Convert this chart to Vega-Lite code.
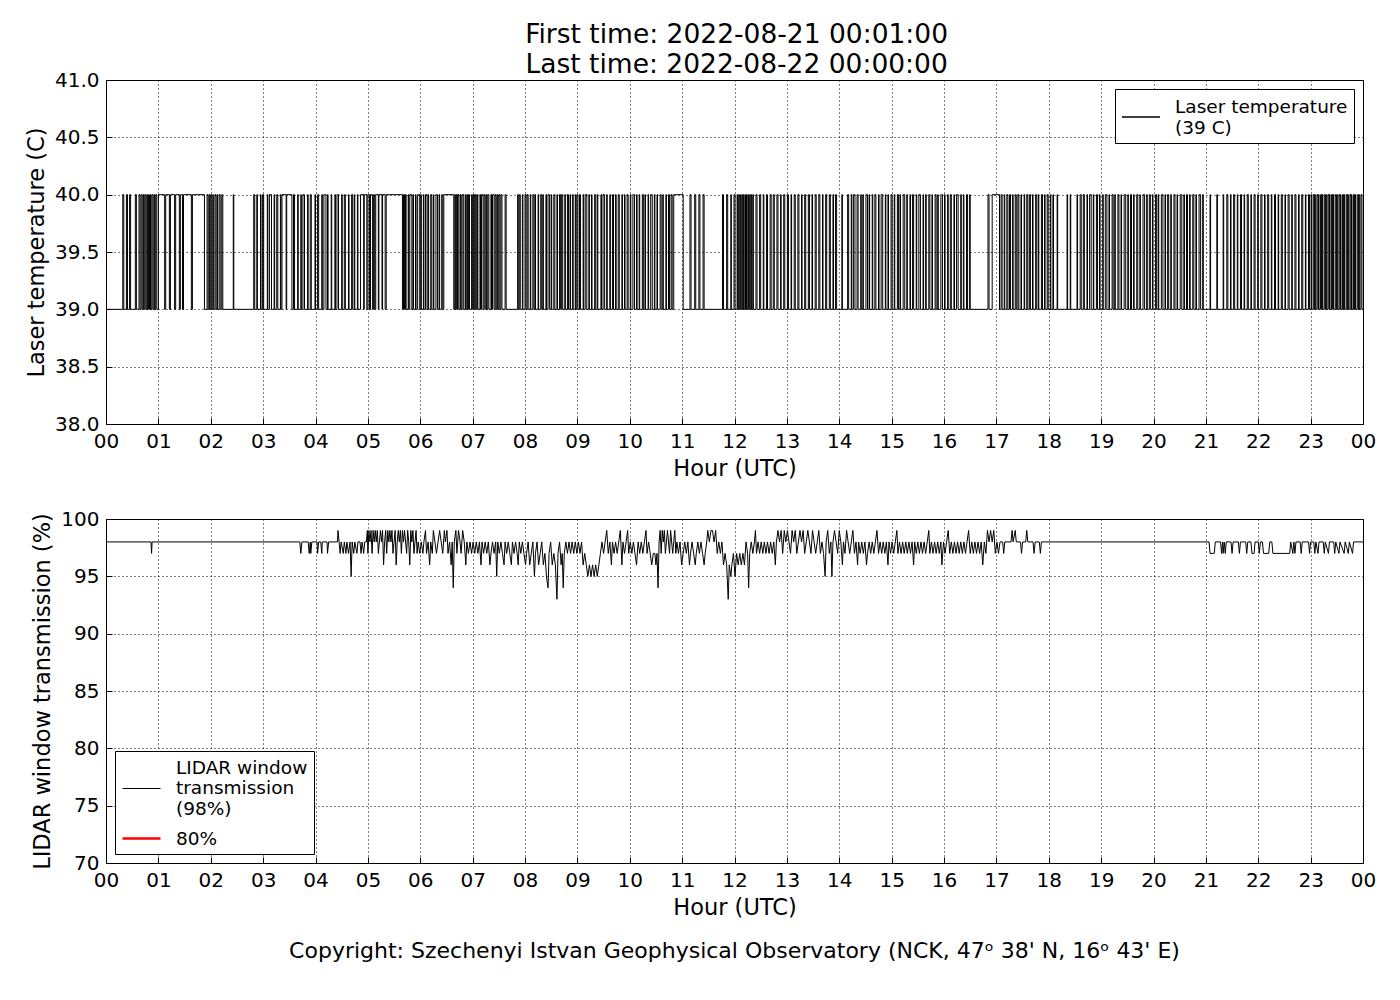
{
  "$schema": "https://vega.github.io/schema/vega-lite/v6.json",
  "background": "white",
  "padding": {"left": 24, "top": 22, "right": 15, "bottom": 10},
  "title": {
    "text": ["First time: 2022-08-21 00:01:00", "Last time: 2022-08-22 00:00:00"],
    "anchor": "middle", "font": "DejaVu Sans", "fontSize": 26.5, "fontWeight": "normal",
    "color": "black", "lineHeight": 30, "offset": -9, "dx": 36
  },
  "spacing": 28,
  "resolve": {
    "scale": {"color": "independent", "strokeWidth": "independent", "x": "independent", "y": "independent"},
    "legend": {"color": "independent", "strokeWidth": "independent"}
  },
  "config": {
    "font": "DejaVu Sans",
    "view": {"stroke": "black", "strokeWidth": 1},
    "axis": {
      "labelFont": "DejaVu Sans", "labelFontSize": 20, "labelColor": "black",
      "titleFont": "DejaVu Sans", "titleFontSize": 22.5, "titleFontWeight": "normal", "titleColor": "black",
      "domain": false, "grid": true, "gridColor": "black", "gridDash": [1, 3], "gridOpacity": 1,
      "ticks": true, "tickColor": "black", "tickSize": -6, "labelPadding": 13, "titlePadding": 6,
      "labelFlush": false, "labelOverlap": false
    },
    "legend": {
      "fillColor": "white", "strokeColor": "black", "strokeWidth": 1, "padding": 6, "cornerRadius": 0,
      "labelFont": "DejaVu Sans", "labelFontSize": 18.5, "labelColor": "black", "labelLimit": 400,
      "symbolType": "stroke", "symbolSize": 1444, "symbolStrokeWidth": 1.5, "symbolStrokeColor": "black",
      "labelOffset": 14, "rowPadding": 6, "offset": 9
    }
  },
  "vconcat": [
    {
      "width": 1257,
      "height": 344,
      "data": {"values": [
        {"h":0,"t":39},
        {"h":0.32,"t":40},{"h":0.34,"t":39},{"h":0.39,"t":40},{"h":0.41,"t":39},{"h":0.45,"t":40},{"h":0.47,"t":39},
        {"h":0.56,"t":40},{"h":0.58,"t":39},{"h":0.63,"t":40},{"h":0.65,"t":39},{"h":0.67,"t":40},{"h":0.69,"t":39},
        {"h":0.71,"t":40},{"h":0.72,"t":39},{"h":0.74,"t":40},{"h":0.76,"t":39},{"h":0.78,"t":40},{"h":0.79,"t":39},
        {"h":0.81,"t":40},{"h":0.83,"t":39},{"h":0.85,"t":40},{"h":0.86,"t":39},{"h":0.88,"t":40},{"h":0.90,"t":39},
        {"h":0.92,"t":40},{"h":0.93,"t":39},{"h":0.95,"t":40},{"h":0.97,"t":39},
        {"h":1.00,"t":40},{"h":1.12,"t":39},{"h":1.14,"t":40},{"h":1.21,"t":39},{"h":1.23,"t":40},{"h":1.31,"t":39},
        {"h":1.33,"t":40},{"h":1.40,"t":39},{"h":1.42,"t":40},{"h":1.46,"t":39},{"h":1.48,"t":40},{"h":1.63,"t":39},
        {"h":1.65,"t":40},{"h":1.88,"t":39},
        {"h":1.93,"t":40},{"h":1.95,"t":39},{"h":1.97,"t":40},{"h":1.98,"t":39},{"h":2.00,"t":40},{"h":2.02,"t":39},
        {"h":2.04,"t":40},{"h":2.05,"t":39},{"h":2.08,"t":40},{"h":2.10,"t":39},{"h":2.12,"t":40},{"h":2.13,"t":39},
        {"h":2.16,"t":40},{"h":2.18,"t":39},{"h":2.21,"t":40},{"h":2.23,"t":39},
        {"h":2.43,"t":40},{"h":2.44,"t":39},
        {"h":2.82,"t":40},{"h":2.84,"t":39},{"h":2.88,"t":40},{"h":2.89,"t":39},{"h":2.95,"t":40},{"h":2.96,"t":39},
        {"h":2.99,"t":40},{"h":3.01,"t":39},{"h":3.08,"t":40},{"h":3.09,"t":39},{"h":3.12,"t":40},{"h":3.16,"t":39},
        {"h":3.21,"t":40},{"h":3.22,"t":39},{"h":3.26,"t":40},{"h":3.28,"t":39},{"h":3.33,"t":40},{"h":3.34,"t":39},
        {"h":3.36,"t":40},{"h":3.44,"t":39},{"h":3.45,"t":40},{"h":3.55,"t":39},{"h":3.58,"t":40},{"h":3.60,"t":39},
        {"h":3.66,"t":40},{"h":3.67,"t":39},{"h":3.72,"t":40},{"h":3.73,"t":39},{"h":3.76,"t":40},{"h":3.79,"t":39},
        {"h":3.85,"t":40},{"h":3.86,"t":39},{"h":3.90,"t":40},{"h":3.92,"t":39},{"h":3.99,"t":40},{"h":4.00,"t":39},
        {"h":4.04,"t":40},{"h":4.06,"t":39},{"h":4.12,"t":40},{"h":4.13,"t":39},{"h":4.16,"t":40},{"h":4.20,"t":39},
        {"h":4.23,"t":40},{"h":4.24,"t":39},{"h":4.30,"t":40},{"h":4.31,"t":39},{"h":4.37,"t":40},{"h":4.38,"t":39},
        {"h":4.41,"t":40},{"h":4.44,"t":39},{"h":4.50,"t":40},{"h":4.51,"t":39},{"h":4.55,"t":40},{"h":4.57,"t":39},
        {"h":4.63,"t":40},{"h":4.64,"t":39},{"h":4.69,"t":40},{"h":4.71,"t":39},{"h":4.74,"t":40},{"h":4.75,"t":39},
        {"h":4.80,"t":40},{"h":4.81,"t":39},
        {"h":4.86,"t":40},{"h":4.92,"t":39},{"h":4.93,"t":40},{"h":4.98,"t":39},{"h":5.00,"t":40},{"h":5.03,"t":39},
        {"h":5.05,"t":40},{"h":5.09,"t":39},{"h":5.11,"t":40},{"h":5.13,"t":39},{"h":5.15,"t":40},{"h":5.20,"t":39},
        {"h":5.21,"t":40},{"h":5.27,"t":39},{"h":5.28,"t":40},{"h":5.33,"t":39},{"h":5.35,"t":40},{"h":5.66,"t":39},
        {"h":5.68,"t":40},{"h":5.70,"t":39},{"h":5.72,"t":40},{"h":5.73,"t":39},{"h":5.77,"t":40},{"h":5.78,"t":39},
        {"h":5.80,"t":40},{"h":5.84,"t":39},{"h":5.86,"t":40},{"h":5.87,"t":39},{"h":5.91,"t":40},{"h":5.92,"t":39},
        {"h":5.95,"t":40},{"h":5.99,"t":39},{"h":6.01,"t":40},{"h":6.02,"t":39},{"h":6.06,"t":40},{"h":6.07,"t":39},
        {"h":6.10,"t":40},{"h":6.13,"t":39},{"h":6.15,"t":40},{"h":6.16,"t":39},{"h":6.20,"t":40},{"h":6.22,"t":39},
        {"h":6.25,"t":40},{"h":6.26,"t":39},{"h":6.30,"t":40},{"h":6.33,"t":39},{"h":6.36,"t":40},{"h":6.37,"t":39},
        {"h":6.41,"t":40},{"h":6.43,"t":39},
        {"h":6.45,"t":40},{"h":6.64,"t":39},
        {"h":6.66,"t":40},{"h":6.67,"t":39},{"h":6.69,"t":40},{"h":6.71,"t":39},{"h":6.72,"t":40},{"h":6.74,"t":39},
        {"h":6.77,"t":40},{"h":6.78,"t":39},{"h":6.80,"t":40},{"h":6.83,"t":39},{"h":6.86,"t":40},{"h":6.87,"t":39},
        {"h":6.89,"t":40},{"h":6.90,"t":39},{"h":6.92,"t":40},{"h":6.94,"t":39},{"h":6.98,"t":40},{"h":7.00,"t":39},
        {"h":7.02,"t":40},{"h":7.04,"t":39},{"h":7.05,"t":40},{"h":7.07,"t":39},{"h":7.09,"t":40},{"h":7.10,"t":39},
        {"h":7.14,"t":40},{"h":7.15,"t":39},{"h":7.17,"t":40},{"h":7.20,"t":39},{"h":7.22,"t":40},{"h":7.24,"t":39},
        {"h":7.26,"t":40},{"h":7.27,"t":39},{"h":7.29,"t":40},{"h":7.31,"t":39},{"h":7.35,"t":40},{"h":7.36,"t":39},
        {"h":7.38,"t":40},{"h":7.41,"t":39},{"h":7.43,"t":40},{"h":7.45,"t":39},{"h":7.47,"t":40},{"h":7.48,"t":39},
        {"h":7.50,"t":40},{"h":7.52,"t":39},{"h":7.54,"t":40},{"h":7.56,"t":39},
        {"h":7.62,"t":40},{"h":7.64,"t":39},{"h":7.86,"t":40},{"h":7.87,"t":39},
        {"h":7.89,"t":40},{"h":7.91,"t":39},{"h":7.95,"t":40},{"h":7.96,"t":39},{"h":8.00,"t":40},{"h":8.02,"t":39},
        {"h":8.04,"t":40},{"h":8.06,"t":39},{"h":8.10,"t":40},{"h":8.11,"t":39},{"h":8.15,"t":40},{"h":8.17,"t":39},
        {"h":8.19,"t":40},{"h":8.20,"t":39},{"h":8.25,"t":40},{"h":8.26,"t":39},{"h":8.30,"t":40},{"h":8.32,"t":39},
        {"h":8.34,"t":40},{"h":8.35,"t":39},{"h":8.40,"t":40},{"h":8.41,"t":39},{"h":8.44,"t":40},{"h":8.47,"t":39},
        {"h":8.50,"t":40},{"h":8.51,"t":39},{"h":8.55,"t":40},{"h":8.57,"t":39},{"h":8.61,"t":40},{"h":8.62,"t":39},
        {"h":8.66,"t":40},{"h":8.68,"t":39},{"h":8.70,"t":40},{"h":8.72,"t":39},{"h":8.76,"t":40},{"h":8.77,"t":39},
        {"h":8.81,"t":40},{"h":8.83,"t":39},{"h":8.86,"t":40},{"h":8.87,"t":39},{"h":8.91,"t":40},{"h":8.92,"t":39},
        {"h":8.96,"t":40},{"h":8.97,"t":39},{"h":8.99,"t":40},{"h":9.01,"t":39},
        {"h":9.04,"t":40},{"h":9.06,"t":39},{"h":9.11,"t":40},{"h":9.12,"t":39},{"h":9.15,"t":40},{"h":9.18,"t":39},
        {"h":9.22,"t":40},{"h":9.23,"t":39},{"h":9.27,"t":40},{"h":9.28,"t":39},{"h":9.33,"t":40},{"h":9.35,"t":39},
        {"h":9.38,"t":40},{"h":9.39,"t":39},{"h":9.45,"t":40},{"h":9.46,"t":39},{"h":9.49,"t":40},{"h":9.52,"t":39},
        {"h":9.56,"t":40},{"h":9.57,"t":39},{"h":9.62,"t":40},{"h":9.63,"t":39},{"h":9.67,"t":40},{"h":9.69,"t":39},
        {"h":9.73,"t":40},{"h":9.74,"t":39},{"h":9.78,"t":40},{"h":9.80,"t":39},{"h":9.85,"t":40},{"h":9.86,"t":39},
        {"h":9.90,"t":40},{"h":9.91,"t":39},{"h":9.95,"t":40},{"h":9.97,"t":39},{"h":10.01,"t":40},{"h":10.02,"t":39},
        {"h":10.06,"t":40},{"h":10.09,"t":39},{"h":10.13,"t":40},{"h":10.14,"t":39},{"h":10.18,"t":40},{"h":10.19,"t":39},
        {"h":10.24,"t":40},{"h":10.26,"t":39},{"h":10.29,"t":40},{"h":10.30,"t":39},{"h":10.35,"t":40},{"h":10.36,"t":39},
        {"h":10.40,"t":40},{"h":10.43,"t":39},{"h":10.47,"t":40},{"h":10.48,"t":39},{"h":10.52,"t":40},{"h":10.53,"t":39},
        {"h":10.58,"t":40},{"h":10.60,"t":39},{"h":10.63,"t":40},{"h":10.64,"t":39},{"h":10.69,"t":40},{"h":10.70,"t":39},
        {"h":10.74,"t":40},{"h":10.76,"t":39},{"h":10.79,"t":40},{"h":10.81,"t":39},
        {"h":10.84,"t":40},{"h":11.02,"t":39},
        {"h":11.15,"t":40},{"h":11.17,"t":39},{"h":11.24,"t":40},{"h":11.26,"t":39},{"h":11.32,"t":40},{"h":11.34,"t":39},
        {"h":11.40,"t":40},{"h":11.42,"t":39},{"h":11.77,"t":40},{"h":11.79,"t":39},{"h":11.85,"t":40},{"h":11.87,"t":39},
        {"h":11.93,"t":40},{"h":11.94,"t":39},{"h":11.99,"t":40},{"h":12.01,"t":39},
        {"h":12.05,"t":40},{"h":12.06,"t":39},{"h":12.08,"t":40},{"h":12.09,"t":39},{"h":12.11,"t":40},{"h":12.12,"t":39},
        {"h":12.14,"t":40},{"h":12.15,"t":39},{"h":12.17,"t":40},{"h":12.18,"t":39},{"h":12.20,"t":40},{"h":12.21,"t":39},
        {"h":12.23,"t":40},{"h":12.24,"t":39},{"h":12.26,"t":40},{"h":12.27,"t":39},{"h":12.29,"t":40},{"h":12.30,"t":39},
        {"h":12.32,"t":40},{"h":12.33,"t":39},{"h":12.35,"t":40},{"h":12.36,"t":39},
        {"h":12.41,"t":40},{"h":12.43,"t":39},{"h":12.48,"t":40},{"h":12.50,"t":39},{"h":12.55,"t":40},{"h":12.56,"t":39},
        {"h":12.61,"t":40},{"h":12.63,"t":39},{"h":12.68,"t":40},{"h":12.70,"t":39},{"h":12.74,"t":40},{"h":12.76,"t":39},
        {"h":12.81,"t":40},{"h":12.83,"t":39},{"h":12.88,"t":40},{"h":12.89,"t":39},{"h":12.94,"t":40},{"h":12.96,"t":39},
        {"h":13.01,"t":40},{"h":13.03,"t":39},{"h":13.08,"t":40},{"h":13.09,"t":39},{"h":13.14,"t":40},{"h":13.16,"t":39},
        {"h":13.21,"t":40},{"h":13.23,"t":39},{"h":13.28,"t":40},{"h":13.29,"t":39},{"h":13.34,"t":40},{"h":13.36,"t":39},
        {"h":13.41,"t":40},{"h":13.43,"t":39},{"h":13.48,"t":40},{"h":13.49,"t":39},{"h":13.54,"t":40},{"h":13.56,"t":39},
        {"h":13.61,"t":40},{"h":13.63,"t":39},{"h":13.68,"t":40},{"h":13.69,"t":39},{"h":13.74,"t":40},{"h":13.76,"t":39},
        {"h":13.81,"t":40},{"h":13.83,"t":39},{"h":13.88,"t":40},{"h":13.89,"t":39},{"h":13.93,"t":40},{"h":13.95,"t":39},
        {"h":14.05,"t":40},{"h":14.06,"t":39},
        {"h":14.16,"t":40},{"h":14.18,"t":39},{"h":14.23,"t":40},{"h":14.24,"t":39},{"h":14.27,"t":40},{"h":14.30,"t":39},
        {"h":14.34,"t":40},{"h":14.36,"t":39},{"h":14.41,"t":40},{"h":14.42,"t":39},{"h":14.45,"t":40},{"h":14.46,"t":39},
        {"h":14.51,"t":40},{"h":14.54,"t":39},{"h":14.57,"t":40},{"h":14.58,"t":39},{"h":14.63,"t":40},{"h":14.64,"t":39},
        {"h":14.68,"t":40},{"h":14.70,"t":39},{"h":14.75,"t":40},{"h":14.76,"t":39},{"h":14.80,"t":40},{"h":14.83,"t":39},
        {"h":14.88,"t":40},{"h":14.89,"t":39},{"h":14.93,"t":40},{"h":14.94,"t":39},{"h":14.99,"t":40},{"h":15.01,"t":39},
        {"h":15.05,"t":40},{"h":15.06,"t":39},{"h":15.11,"t":40},{"h":15.13,"t":39},{"h":15.16,"t":40},{"h":15.17,"t":39},
        {"h":15.22,"t":40},{"h":15.25,"t":39},{"h":15.29,"t":40},{"h":15.30,"t":39},{"h":15.35,"t":40},{"h":15.36,"t":39},
        {"h":15.40,"t":40},{"h":15.42,"t":39},{"h":15.47,"t":40},{"h":15.48,"t":39},{"h":15.52,"t":40},{"h":15.55,"t":39},
        {"h":15.60,"t":40},{"h":15.61,"t":39},{"h":15.65,"t":40},{"h":15.66,"t":39},{"h":15.71,"t":40},{"h":15.73,"t":39},
        {"h":15.77,"t":40},{"h":15.78,"t":39},{"h":15.83,"t":40},{"h":15.85,"t":39},{"h":15.88,"t":40},{"h":15.89,"t":39},
        {"h":15.94,"t":40},{"h":15.97,"t":39},{"h":16.01,"t":40},{"h":16.02,"t":39},{"h":16.07,"t":40},{"h":16.08,"t":39},
        {"h":16.12,"t":40},{"h":16.14,"t":39},{"h":16.19,"t":40},{"h":16.20,"t":39},{"h":16.24,"t":40},{"h":16.27,"t":39},
        {"h":16.32,"t":40},{"h":16.33,"t":39},{"h":16.37,"t":40},{"h":16.38,"t":39},{"h":16.43,"t":40},{"h":16.45,"t":39},
        {"h":16.49,"t":40},{"h":16.50,"t":39},
        {"h":16.84,"t":40},{"h":16.86,"t":39},{"h":16.92,"t":40},{"h":17.06,"t":39},
        {"h":17.09,"t":40},{"h":17.11,"t":39},{"h":17.15,"t":40},{"h":17.16,"t":39},{"h":17.20,"t":40},{"h":17.22,"t":39},
        {"h":17.25,"t":40},{"h":17.27,"t":39},{"h":17.31,"t":40},{"h":17.32,"t":39},{"h":17.36,"t":40},{"h":17.38,"t":39},
        {"h":17.41,"t":40},{"h":17.43,"t":39},{"h":17.47,"t":40},{"h":17.48,"t":39},{"h":17.53,"t":40},{"h":17.54,"t":39},
        {"h":17.58,"t":40},{"h":17.60,"t":39},{"h":17.63,"t":40},{"h":17.65,"t":39},{"h":17.69,"t":40},{"h":17.70,"t":39},
        {"h":17.75,"t":40},{"h":17.77,"t":39},{"h":17.80,"t":40},{"h":17.81,"t":39},{"h":17.86,"t":40},{"h":17.88,"t":39},
        {"h":17.92,"t":40},{"h":17.93,"t":39},{"h":17.97,"t":40},{"h":17.99,"t":39},{"h":18.03,"t":40},{"h":18.04,"t":39},
        {"h":18.08,"t":40},{"h":18.09,"t":39},{"h":18.16,"t":40},{"h":18.17,"t":39},{"h":18.35,"t":40},{"h":18.36,"t":39},
        {"h":18.41,"t":40},{"h":18.42,"t":39},{"h":18.54,"t":40},{"h":18.55,"t":39},{"h":18.60,"t":40},{"h":18.62,"t":39},
        {"h":18.66,"t":40},{"h":18.68,"t":39},{"h":18.73,"t":40},{"h":18.74,"t":39},{"h":18.78,"t":40},{"h":18.81,"t":39},
        {"h":18.85,"t":40},{"h":18.86,"t":39},{"h":18.91,"t":40},{"h":18.93,"t":39},{"h":18.97,"t":40},{"h":18.98,"t":39},
        {"h":19.03,"t":40},{"h":19.04,"t":39},{"h":19.08,"t":40},{"h":19.11,"t":39},{"h":19.15,"t":40},{"h":19.16,"t":39},
        {"h":19.21,"t":40},{"h":19.23,"t":39},{"h":19.26,"t":40},{"h":19.27,"t":39},{"h":19.32,"t":40},{"h":19.34,"t":39},
        {"h":19.38,"t":40},{"h":19.39,"t":39},{"h":19.44,"t":40},{"h":19.47,"t":39},{"h":19.51,"t":40},{"h":19.52,"t":39},
        {"h":19.56,"t":40},{"h":19.58,"t":39},{"h":19.62,"t":40},{"h":19.63,"t":39},{"h":19.68,"t":40},{"h":19.70,"t":39},
        {"h":19.74,"t":40},{"h":19.75,"t":39},{"h":19.80,"t":40},{"h":19.83,"t":39},{"h":19.87,"t":40},{"h":19.88,"t":39},
        {"h":19.92,"t":40},{"h":19.94,"t":39},{"h":19.98,"t":40},{"h":19.99,"t":39},{"h":20.04,"t":40},{"h":20.06,"t":39},
        {"h":20.09,"t":40},{"h":20.10,"t":39},{"h":20.15,"t":40},{"h":20.18,"t":39},{"h":20.22,"t":40},{"h":20.23,"t":39},
        {"h":20.27,"t":40},{"h":20.29,"t":39},{"h":20.33,"t":40},{"h":20.34,"t":39},{"h":20.39,"t":40},{"h":20.41,"t":39},
        {"h":20.45,"t":40},{"h":20.46,"t":39},{"h":20.51,"t":40},{"h":20.54,"t":39},{"h":20.58,"t":40},{"h":20.59,"t":39},
        {"h":20.63,"t":40},{"h":20.65,"t":39},{"h":20.69,"t":40},{"h":20.70,"t":39},{"h":20.75,"t":40},{"h":20.77,"t":39},
        {"h":20.81,"t":40},{"h":20.82,"t":39},{"h":20.87,"t":40},{"h":20.90,"t":39},{"h":20.94,"t":40},{"h":20.95,"t":39},
        {"h":21.08,"t":40},{"h":21.09,"t":39},{"h":21.21,"t":40},{"h":21.22,"t":39},{"h":21.33,"t":40},{"h":21.34,"t":39},
        {"h":21.40,"t":40},{"h":21.42,"t":39},{"h":21.47,"t":40},{"h":21.48,"t":39},{"h":21.53,"t":40},{"h":21.55,"t":39},
        {"h":21.60,"t":40},{"h":21.61,"t":39},{"h":21.66,"t":40},{"h":21.68,"t":39},{"h":21.73,"t":40},{"h":21.74,"t":39},
        {"h":21.79,"t":40},{"h":21.81,"t":39},{"h":21.86,"t":40},{"h":21.87,"t":39},{"h":21.92,"t":40},{"h":21.94,"t":39},
        {"h":21.99,"t":40},{"h":22.00,"t":39},{"h":22.05,"t":40},{"h":22.07,"t":39},{"h":22.12,"t":40},{"h":22.13,"t":39},
        {"h":22.18,"t":40},{"h":22.20,"t":39},{"h":22.25,"t":40},{"h":22.26,"t":39},{"h":22.31,"t":40},{"h":22.33,"t":39},
        {"h":22.38,"t":40},{"h":22.39,"t":39},{"h":22.44,"t":40},{"h":22.46,"t":39},{"h":22.51,"t":40},{"h":22.52,"t":39},
        {"h":22.57,"t":40},{"h":22.59,"t":39},{"h":22.64,"t":40},{"h":22.65,"t":39},{"h":22.70,"t":40},{"h":22.72,"t":39},
        {"h":22.77,"t":40},{"h":22.78,"t":39},{"h":22.83,"t":40},{"h":22.85,"t":39},{"h":22.90,"t":40},{"h":22.91,"t":39},
        {"h":22.96,"t":40},{"h":22.98,"t":39},
        {"h":23.01,"t":40},{"h":23.02,"t":39},{"h":23.05,"t":40},{"h":23.07,"t":39},{"h":23.08,"t":40},{"h":23.09,"t":39},
        {"h":23.12,"t":40},{"h":23.14,"t":39},{"h":23.15,"t":40},{"h":23.16,"t":39},{"h":23.19,"t":40},{"h":23.21,"t":39},
        {"h":23.22,"t":40},{"h":23.23,"t":39},{"h":23.26,"t":40},{"h":23.28,"t":39},{"h":23.29,"t":40},{"h":23.30,"t":39},
        {"h":23.33,"t":40},{"h":23.35,"t":39},{"h":23.36,"t":40},{"h":23.37,"t":39},{"h":23.40,"t":40},{"h":23.42,"t":39},
        {"h":23.43,"t":40},{"h":23.44,"t":39},{"h":23.47,"t":40},{"h":23.49,"t":39},{"h":23.50,"t":40},{"h":23.51,"t":39},
        {"h":23.54,"t":40},{"h":23.56,"t":39},{"h":23.57,"t":40},{"h":23.58,"t":39},{"h":23.61,"t":40},{"h":23.63,"t":39},
        {"h":23.64,"t":40},{"h":23.65,"t":39},{"h":23.68,"t":40},{"h":23.70,"t":39},{"h":23.71,"t":40},{"h":23.72,"t":39},
        {"h":23.75,"t":40},{"h":23.77,"t":39},{"h":23.78,"t":40},{"h":23.79,"t":39},{"h":23.82,"t":40},{"h":23.84,"t":39},
        {"h":23.85,"t":40},{"h":23.86,"t":39},{"h":23.89,"t":40},{"h":23.91,"t":39},{"h":23.92,"t":40},{"h":23.93,"t":39},
        {"h":23.96,"t":40},{"h":23.98,"t":39},{"h":24.00,"t":39}
      ]},
      "mark": {"type": "line", "interpolate": "step-after", "strokeWidth": 1},
      "encoding": {
        "x": {
          "field": "h", "type": "quantitative",
          "scale": {"domain": [0, 24], "nice": false, "zero": false},
          "axis": {
            "title": "Hour (UTC)",
            "values": [0,1,2,3,4,5,6,7,8,9,10,11,12,13,14,15,16,17,18,19,20,21,22,23,24],
            "labelExpr": "datum.value == 24 ? '00' : (datum.value < 10 ? '0' + datum.value : '' + datum.value)"
          }
        },
        "y": {
          "field": "t", "type": "quantitative",
          "scale": {"domain": [38, 41], "nice": false, "zero": false},
          "axis": {"title": "Laser temperature (C)", "values": [38, 38.5, 39, 39.5, 40, 40.5, 41], "format": ".1f"}
        },
        "color": {
          "datum": "Laser temperature (39 C)", "type": "nominal",
          "scale": {"domain": ["Laser temperature (39 C)"], "range": ["black"]},
          "legend": {
            "title": " ", "titleFontSize": 1, "titlePadding": 1, "orient": "top-right",
            "labelExpr": "datum.label == 'Laser temperature (39 C)' ? ['Laser temperature', '(39 C)'] : datum.label",
            "encode": {"labels": {"update": {"dy": {"value": -10}}}}
          }
        }
      }
    },
    {
      "width": 1257,
      "height": 344,
      "title": {
        "text": "Copyright: Szechenyi Istvan Geophysical Observatory (NCK, 47ᵒ 38' N, 16ᵒ 43' E)",
        "orient": "bottom", "anchor": "middle", "font": "DejaVu Sans", "fontSize": 22,
        "fontWeight": "normal", "color": "black", "offset": 22
      },
      "layer": [
        {
          "data": {"values": [
            {"h":0,"w":98},{"h":0.86,"w":98},{"h":0.87,"w":97},{"h":0.88,"w":98},{"h":3.70,"w":98},
            {"h":3.72,"w":97},{"h":3.74,"w":98},{"h":3.86,"w":98},{"h":3.88,"w":97},{"h":3.90,"w":98},{"h":3.91,"w":97},
            {"h":3.93,"w":98},{"h":4.03,"w":98},{"h":4.04,"w":97},{"h":4.06,"w":98},{"h":4.10,"w":98},{"h":4.12,"w":97},
            {"h":4.13,"w":98},{"h":4.22,"w":98},{"h":4.23,"w":97},{"h":4.25,"w":98},{"h":4.42,"w":98},{"h":4.43,"w":99},
            {"h":4.45,"w":98},{"h":4.47,"w":97},{"h":4.49,"w":98},{"h":4.53,"w":97},{"h":4.55,"w":98},{"h":4.58,"w":97},
            {"h":4.60,"w":98},{"h":4.63,"w":97},{"h":4.66,"w":98},{"h":4.68,"w":95},{"h":4.70,"w":98},{"h":4.73,"w":97},
            {"h":4.75,"w":98},{"h":4.79,"w":97},{"h":4.81,"w":98},{"h":4.85,"w":98},{"h":4.87,"w":97},{"h":4.89,"w":98},
            {"h":4.92,"w":97},{"h":4.94,"w":98},{"h":4.97,"w":98},{"h":4.99,"w":99},{"h":5.00,"w":97},{"h":5.02,"w":99},
            {"h":5.04,"w":98},{"h":5.06,"w":99},{"h":5.08,"w":97},{"h":5.10,"w":99},{"h":5.12,"w":98},{"h":5.14,"w":99},
            {"h":5.16,"w":98},{"h":5.18,"w":99},{"h":5.20,"w":97},{"h":5.22,"w":98},{"h":5.24,"w":99},{"h":5.26,"w":98},
            {"h":5.28,"w":99},{"h":5.30,"w":96},{"h":5.32,"w":98},{"h":5.34,"w":99},{"h":5.36,"w":97},{"h":5.38,"w":99},
            {"h":5.40,"w":98},{"h":5.42,"w":99},{"h":5.44,"w":98},{"h":5.46,"w":99},{"h":5.48,"w":97},{"h":5.50,"w":98},
            {"h":5.52,"w":99},{"h":5.54,"w":96},{"h":5.56,"w":98},{"h":5.58,"w":99},{"h":5.60,"w":98},{"h":5.62,"w":99},
            {"h":5.64,"w":97},{"h":5.66,"w":99},{"h":5.68,"w":98},{"h":5.70,"w":99},{"h":5.72,"w":98},{"h":5.74,"w":97},
            {"h":5.76,"w":99},{"h":5.78,"w":98},{"h":5.80,"w":96},{"h":5.82,"w":99},{"h":5.84,"w":98},{"h":5.86,"w":99},
            {"h":5.88,"w":97},{"h":5.90,"w":98},{"h":5.92,"w":99},{"h":5.94,"w":97},{"h":5.96,"w":98},{"h":5.99,"w":97},
            {"h":6.02,"w":98},{"h":6.05,"w":97},{"h":6.07,"w":98},{"h":6.10,"w":99},{"h":6.12,"w":97},{"h":6.15,"w":98},
            {"h":6.18,"w":96},{"h":6.20,"w":98},{"h":6.23,"w":97},{"h":6.25,"w":99},{"h":6.28,"w":98},{"h":6.31,"w":97},
            {"h":6.34,"w":98},{"h":6.37,"w":99},{"h":6.40,"w":98},{"h":6.43,"w":97},{"h":6.46,"w":99},{"h":6.48,"w":98},
            {"h":6.51,"w":99},{"h":6.53,"w":97},{"h":6.56,"w":98},{"h":6.59,"w":96},{"h":6.61,"w":98},{"h":6.63,"w":94},
            {"h":6.65,"w":98},{"h":6.68,"w":99},{"h":6.70,"w":97},{"h":6.73,"w":99},{"h":6.76,"w":98},{"h":6.78,"w":97},
            {"h":6.81,"w":99},{"h":6.84,"w":98},{"h":6.87,"w":96},{"h":6.89,"w":98},{"h":6.92,"w":97},{"h":6.95,"w":98},
            {"h":6.98,"w":97},{"h":7.01,"w":98},{"h":7.04,"w":97},{"h":7.07,"w":98},{"h":7.10,"w":97},{"h":7.13,"w":98},
            {"h":7.16,"w":96},{"h":7.18,"w":98},{"h":7.21,"w":97},{"h":7.24,"w":98},{"h":7.27,"w":97},{"h":7.30,"w":98},
            {"h":7.33,"w":96},{"h":7.35,"w":97},{"h":7.38,"w":98},{"h":7.41,"w":97},{"h":7.44,"w":98},{"h":7.46,"w":95},
            {"h":7.48,"w":98},{"h":7.51,"w":97},{"h":7.54,"w":98},{"h":7.57,"w":97},{"h":7.60,"w":96},{"h":7.62,"w":98},
            {"h":7.65,"w":97},{"h":7.68,"w":98},{"h":7.71,"w":97},{"h":7.74,"w":96},{"h":7.76,"w":98},{"h":7.79,"w":97},
            {"h":7.82,"w":98},{"h":7.85,"w":97},{"h":7.87,"w":96},{"h":7.89,"w":98},{"h":7.92,"w":97},{"h":7.95,"w":98},
            {"h":7.98,"w":97},{"h":8.01,"w":96},{"h":8.03,"w":97},{"h":8.06,"w":98},{"h":8.09,"w":96},{"h":8.12,"w":97},
            {"h":8.15,"w":98},{"h":8.18,"w":95},{"h":8.20,"w":97},{"h":8.23,"w":98},{"h":8.26,"w":96},{"h":8.29,"w":97},
            {"h":8.32,"w":98},{"h":8.35,"w":96},{"h":8.38,"w":97},{"h":8.41,"w":95},{"h":8.44,"w":94},{"h":8.46,"w":97},
            {"h":8.49,"w":98},{"h":8.52,"w":96},{"h":8.55,"w":97},{"h":8.58,"w":96},{"h":8.61,"w":93},{"h":8.63,"w":97},
            {"h":8.66,"w":98},{"h":8.69,"w":96},{"h":8.71,"w":97},{"h":8.73,"w":94},{"h":8.75,"w":97},{"h":8.78,"w":98},
            {"h":8.81,"w":97},{"h":8.84,"w":98},{"h":8.87,"w":97},{"h":8.90,"w":98},{"h":8.93,"w":97},{"h":8.96,"w":98},
            {"h":8.99,"w":97},{"h":9.02,"w":98},{"h":9.05,"w":97},{"h":9.08,"w":98},{"h":9.11,"w":96},{"h":9.14,"w":97},
            {"h":9.17,"w":96},{"h":9.20,"w":95},{"h":9.23,"w":96},{"h":9.26,"w":95},{"h":9.29,"w":96},{"h":9.32,"w":95},
            {"h":9.35,"w":96},{"h":9.38,"w":95},{"h":9.41,"w":96},{"h":9.44,"w":97},{"h":9.47,"w":98},{"h":9.50,"w":97},
            {"h":9.53,"w":98},{"h":9.56,"w":99},{"h":9.59,"w":97},{"h":9.62,"w":98},{"h":9.65,"w":96},{"h":9.67,"w":98},
            {"h":9.70,"w":97},{"h":9.73,"w":98},{"h":9.76,"w":97},{"h":9.79,"w":98},{"h":9.82,"w":99},{"h":9.85,"w":96},
            {"h":9.87,"w":98},{"h":9.90,"w":97},{"h":9.93,"w":98},{"h":9.96,"w":99},{"h":9.98,"w":97},{"h":10.01,"w":98},
            {"h":10.04,"w":97},{"h":10.07,"w":98},{"h":10.10,"w":97},{"h":10.13,"w":96},{"h":10.16,"w":98},{"h":10.19,"w":97},
            {"h":10.22,"w":98},{"h":10.25,"w":97},{"h":10.28,"w":98},{"h":10.31,"w":99},{"h":10.33,"w":97},{"h":10.36,"w":98},
            {"h":10.39,"w":97},{"h":10.42,"w":96},{"h":10.45,"w":97},{"h":10.48,"w":97},{"h":10.50,"w":96},{"h":10.52,"w":97},
            {"h":10.54,"w":94},{"h":10.56,"w":98},{"h":10.58,"w":99},{"h":10.60,"w":97},{"h":10.62,"w":99},{"h":10.64,"w":98},
            {"h":10.66,"w":99},{"h":10.68,"w":97},{"h":10.70,"w":98},{"h":10.72,"w":99},{"h":10.74,"w":98},{"h":10.76,"w":97},
            {"h":10.78,"w":99},{"h":10.80,"w":98},{"h":10.82,"w":97},{"h":10.84,"w":98},{"h":10.86,"w":99},{"h":10.88,"w":97},
            {"h":10.90,"w":98},{"h":10.93,"w":97},{"h":10.96,"w":98},{"h":10.99,"w":96},{"h":11.02,"w":97},{"h":11.05,"w":98},
            {"h":11.08,"w":97},{"h":11.11,"w":98},{"h":11.14,"w":96},{"h":11.16,"w":97},{"h":11.19,"w":98},{"h":11.22,"w":97},
            {"h":11.25,"w":96},{"h":11.27,"w":97},{"h":11.30,"w":98},{"h":11.33,"w":97},{"h":11.36,"w":98},{"h":11.39,"w":97},
            {"h":11.42,"w":96},{"h":11.44,"w":97},{"h":11.47,"w":98},{"h":11.49,"w":99},{"h":11.52,"w":98},{"h":11.55,"w":99},
            {"h":11.58,"w":99},{"h":11.61,"w":98},{"h":11.64,"w":99},{"h":11.67,"w":97},{"h":11.70,"w":98},{"h":11.73,"w":97},
            {"h":11.76,"w":98},{"h":11.79,"w":96},{"h":11.82,"w":97},{"h":11.85,"w":96},{"h":11.88,"w":93},{"h":11.90,"w":96},
            {"h":11.93,"w":95},{"h":11.95,"w":96},{"h":11.98,"w":97},{"h":12.01,"w":95},{"h":12.04,"w":97},{"h":12.07,"w":96},
            {"h":12.10,"w":97},{"h":12.13,"w":96},{"h":12.16,"w":97},{"h":12.19,"w":96},{"h":12.22,"w":98},{"h":12.25,"w":97},
            {"h":12.27,"w":94},{"h":12.29,"w":97},{"h":12.32,"w":98},{"h":12.35,"w":97},{"h":12.38,"w":98},{"h":12.40,"w":99},
            {"h":12.42,"w":97},{"h":12.45,"w":98},{"h":12.48,"w":97},{"h":12.51,"w":98},{"h":12.54,"w":97},{"h":12.57,"w":98},
            {"h":12.60,"w":97},{"h":12.63,"w":98},{"h":12.66,"w":97},{"h":12.69,"w":98},{"h":12.72,"w":97},{"h":12.75,"w":98},
            {"h":12.78,"w":96},{"h":12.80,"w":98},{"h":12.83,"w":99},{"h":12.86,"w":98},{"h":12.89,"w":99},{"h":12.92,"w":97},
            {"h":12.95,"w":99},{"h":12.98,"w":98},{"h":13.01,"w":99},{"h":13.04,"w":98},{"h":13.07,"w":97},{"h":13.10,"w":99},
            {"h":13.13,"w":98},{"h":13.16,"w":99},{"h":13.19,"w":97},{"h":13.22,"w":98},{"h":13.25,"w":99},{"h":13.28,"w":98},
            {"h":13.31,"w":99},{"h":13.34,"w":97},{"h":13.37,"w":98},{"h":13.40,"w":99},{"h":13.43,"w":98},{"h":13.46,"w":97},
            {"h":13.49,"w":99},{"h":13.52,"w":98},{"h":13.55,"w":97},{"h":13.58,"w":98},{"h":13.61,"w":99},{"h":13.64,"w":97},
            {"h":13.67,"w":98},{"h":13.70,"w":97},{"h":13.73,"w":95},{"h":13.75,"w":98},{"h":13.78,"w":99},{"h":13.81,"w":97},
            {"h":13.84,"w":98},{"h":13.86,"w":95},{"h":13.88,"w":98},{"h":13.91,"w":99},{"h":13.94,"w":98},{"h":13.97,"w":97},
            {"h":14.00,"w":99},{"h":14.03,"w":98},{"h":14.06,"w":96},{"h":14.08,"w":98},{"h":14.11,"w":97},{"h":14.14,"w":99},
            {"h":14.17,"w":98},{"h":14.20,"w":97},{"h":14.23,"w":98},{"h":14.26,"w":99},{"h":14.29,"w":97},{"h":14.32,"w":98},
            {"h":14.35,"w":96},{"h":14.37,"w":98},{"h":14.40,"w":97},{"h":14.43,"w":98},{"h":14.46,"w":97},{"h":14.49,"w":98},
            {"h":14.52,"w":96},{"h":14.54,"w":97},{"h":14.57,"w":98},{"h":14.60,"w":97},{"h":14.63,"w":98},{"h":14.66,"w":97},
            {"h":14.69,"w":98},{"h":14.72,"w":99},{"h":14.75,"w":97},{"h":14.78,"w":98},{"h":14.81,"w":97},{"h":14.84,"w":98},
            {"h":14.87,"w":97},{"h":14.90,"w":98},{"h":14.93,"w":96},{"h":14.95,"w":98},{"h":14.98,"w":97},{"h":15.01,"w":98},
            {"h":15.04,"w":97},{"h":15.07,"w":98},{"h":15.10,"w":99},{"h":15.12,"w":97},{"h":15.15,"w":98},{"h":15.18,"w":97},
            {"h":15.21,"w":98},{"h":15.24,"w":97},{"h":15.27,"w":98},{"h":15.30,"w":97},{"h":15.33,"w":98},{"h":15.36,"w":97},
            {"h":15.39,"w":98},{"h":15.42,"w":96},{"h":15.44,"w":98},{"h":15.47,"w":97},{"h":15.50,"w":98},{"h":15.53,"w":97},
            {"h":15.56,"w":98},{"h":15.59,"w":97},{"h":15.62,"w":98},{"h":15.65,"w":97},{"h":15.68,"w":98},{"h":15.71,"w":99},
            {"h":15.73,"w":97},{"h":15.76,"w":98},{"h":15.79,"w":97},{"h":15.82,"w":98},{"h":15.85,"w":97},{"h":15.88,"w":98},
            {"h":15.91,"w":97},{"h":15.94,"w":98},{"h":15.96,"w":96},{"h":15.99,"w":98},{"h":16.02,"w":97},{"h":16.05,"w":98},
            {"h":16.08,"w":99},{"h":16.11,"w":97},{"h":16.14,"w":98},{"h":16.17,"w":97},{"h":16.20,"w":98},{"h":16.23,"w":97},
            {"h":16.26,"w":98},{"h":16.29,"w":97},{"h":16.32,"w":98},{"h":16.35,"w":97},{"h":16.38,"w":98},{"h":16.41,"w":97},
            {"h":16.44,"w":98},{"h":16.47,"w":99},{"h":16.50,"w":97},{"h":16.53,"w":98},{"h":16.56,"w":97},{"h":16.59,"w":98},
            {"h":16.62,"w":97},{"h":16.65,"w":98},{"h":16.68,"w":97},{"h":16.71,"w":98},{"h":16.74,"w":96},{"h":16.77,"w":98},
            {"h":16.80,"w":97},{"h":16.83,"w":99},{"h":16.86,"w":98},{"h":16.89,"w":99},{"h":16.92,"w":98},{"h":16.95,"w":99},
            {"h":16.98,"w":97},{"h":17.01,"w":98},{"h":17.04,"w":97},{"h":17.07,"w":98},{"h":17.12,"w":98},{"h":17.14,"w":97},
            {"h":17.16,"w":98},{"h":17.28,"w":98},{"h":17.30,"w":99},{"h":17.32,"w":98},{"h":17.36,"w":99},{"h":17.38,"w":98},
            {"h":17.46,"w":98},{"h":17.48,"w":97},{"h":17.50,"w":98},{"h":17.56,"w":98},{"h":17.58,"w":99},{"h":17.60,"w":98},
            {"h":17.70,"w":98},{"h":17.72,"w":97},{"h":17.74,"w":98},{"h":17.82,"w":98},{"h":17.84,"w":97},{"h":17.86,"w":98},
            {"h":21.06,"w":98},{"h":21.08,"w":97},{"h":21.16,"w":97},{"h":21.18,"w":98},{"h":21.28,"w":98},{"h":21.30,"w":97},
            {"h":21.32,"w":98},{"h":21.33,"w":97},{"h":21.35,"w":98},{"h":21.37,"w":97},{"h":21.39,"w":98},{"h":21.48,"w":98},
            {"h":21.50,"w":97},{"h":21.52,"w":98},{"h":21.62,"w":98},{"h":21.64,"w":97},{"h":21.66,"w":98},{"h":21.76,"w":98},
            {"h":21.78,"w":97},{"h":21.80,"w":98},{"h":21.86,"w":98},{"h":21.88,"w":97},{"h":21.92,"w":97},{"h":21.94,"w":98},
            {"h":22.00,"w":98},{"h":22.02,"w":97},{"h":22.04,"w":98},{"h":22.08,"w":98},{"h":22.10,"w":97},{"h":22.20,"w":97},
            {"h":22.22,"w":98},{"h":22.26,"w":98},{"h":22.28,"w":97},{"h":22.60,"w":97},{"h":22.62,"w":98},{"h":22.66,"w":97},
            {"h":22.68,"w":98},{"h":22.70,"w":97},{"h":22.72,"w":98},{"h":22.80,"w":98},{"h":22.82,"w":97},{"h":22.84,"w":98},
            {"h":22.96,"w":98},{"h":22.98,"w":97},{"h":23.00,"w":98},{"h":23.06,"w":98},{"h":23.08,"w":97},{"h":23.10,"w":98},
            {"h":23.14,"w":97},{"h":23.16,"w":98},{"h":23.24,"w":98},{"h":23.26,"w":97},{"h":23.28,"w":98},{"h":23.34,"w":97},
            {"h":23.36,"w":98},{"h":23.44,"w":98},{"h":23.46,"w":97},{"h":23.48,"w":98},{"h":23.54,"w":97},{"h":23.56,"w":98},
            {"h":23.64,"w":97},{"h":23.66,"w":98},{"h":23.72,"w":97},{"h":23.74,"w":98},{"h":23.80,"w":97},{"h":23.82,"w":98},
            {"h":24.00,"w":98}
          ]},
          "mark": {"type": "line"},
          "encoding": {
            "x": {
              "field": "h", "type": "quantitative",
              "scale": {"domain": [0, 24], "nice": false, "zero": false},
              "axis": {
                "title": "Hour (UTC)",
                "values": [0,1,2,3,4,5,6,7,8,9,10,11,12,13,14,15,16,17,18,19,20,21,22,23,24],
                "labelExpr": "datum.value == 24 ? '00' : (datum.value < 10 ? '0' + datum.value : '' + datum.value)"
              }
            },
            "y": {
              "field": "w", "type": "quantitative",
              "scale": {"domain": [70, 100], "nice": false, "zero": false},
              "axis": {"title": "LIDAR window transmission (%)", "values": [70, 75, 80, 85, 90, 95, 100]}
            },
            "color": {
              "datum": "LIDAR window transmission (98%)", "type": "nominal",
              "scale": {"domain": ["LIDAR window transmission (98%)", "80%"], "range": ["black", "red"]},
              "legend": {
                "title": " ", "titleFontSize": 1, "titlePadding": 11, "rowPadding": -4, "orient": "bottom-left",
                "labelExpr": "datum.label == 'LIDAR window transmission (98%)' ? ['LIDAR window', 'transmission', '(98%)'] : datum.label",
                "encode": {"labels": {"update": {"dy": {"signal": "datum.value == 'LIDAR window transmission (98%)' ? -21 : 0"}}}}
              }
            },
            "strokeWidth": {
              "datum": "LIDAR window transmission (98%)", "type": "nominal",
              "scale": {"domain": ["LIDAR window transmission (98%)", "80%"], "range": [1, 2.5]},
              "legend": {
                "title": " ", "titleFontSize": 1, "titlePadding": 11, "rowPadding": -4, "orient": "bottom-left",
                "labelExpr": "datum.label == 'LIDAR window transmission (98%)' ? ['LIDAR window', 'transmission', '(98%)'] : datum.label",
                "encode": {"labels": {"update": {"dy": {"signal": "datum.value == 'LIDAR window transmission (98%)' ? -21 : 0"}}}}
              }
            }
          }
        },
        {
          "mark": {"type": "rule"},
          "encoding": {
            "y": {"datum": 80},
            "color": {"datum": "80%", "type": "nominal"},
            "strokeWidth": {"datum": "80%", "type": "nominal"}
          }
        }
      ]
    }
  ]
}
